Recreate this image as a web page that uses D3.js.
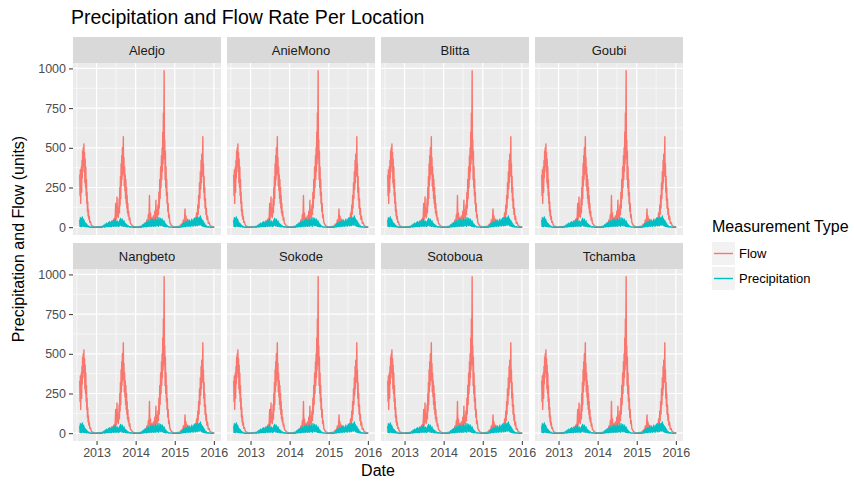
<!DOCTYPE html>
<html lang="en">
<head>
    <meta charset="UTF-8">
    <title>Precipitation and Flow Rate Per Location</title>
    <script src="https://d3js.org/d3.v7.min.js"></script>
    <style>
        body { margin: 0; background: #fff; font-family: "Liberation Sans", Arial, sans-serif; }
        .axis text { font-size: 12.5px; fill: #4d4d4d; }
        .axis line { stroke: #333; }
        .axis path { display: none; }
    </style>
</head>
<body>
    <div id="chart"></div>

    <script>
        // Data
        const locations = ["Aledjo", "AnieMono", "Blitta", "Goubi", "Nangbeto", "Sokode", "Sotoboua", "Tchamba"];
        const seriesNames = ["Flow", "Precipitation"];
        const seriesColors = ["#F8766D", "#00BFC4"];
        const yTicks = [0, 250, 500, 750, 1000];
        const xTickDates = ["2013-01-01", "2014-01-01", "2015-01-01", "2016-01-01"];

        const flow = [
            // 2012 season
            ["2012-07-28", 330], ["2012-07-31", 200], ["2012-08-03", 360], ["2012-08-06", 150],
            ["2012-08-09", 300], ["2012-08-12", 380], ["2012-08-15", 220], ["2012-08-18", 420],
            ["2012-08-21", 310], ["2012-08-24", 480], ["2012-08-27", 350], ["2012-08-30", 500],
            ["2012-09-02", 400], ["2012-09-05", 525], ["2012-09-08", 380], ["2012-09-11", 470],
            ["2012-09-14", 280], ["2012-09-17", 430], ["2012-09-20", 250], ["2012-09-23", 380],
            ["2012-09-26", 200], ["2012-09-29", 300], ["2012-10-02", 150], ["2012-10-05", 220],
            ["2012-10-08", 100], ["2012-10-11", 160], ["2012-10-14", 70], ["2012-10-17", 110],
            ["2012-10-21", 50], ["2012-10-25", 70], ["2012-10-30", 30], ["2012-11-05", 35],
            ["2012-11-12", 15], ["2012-11-20", 8], ["2012-12-01", 4], ["2012-12-15", 2],
            // 2013
            ["2013-01-01", 2], ["2013-01-20", 3], ["2013-02-10", 4], ["2013-03-01", 6],
            ["2013-03-12", 12], ["2013-03-22", 5], ["2013-04-02", 18], ["2013-04-12", 8],
            ["2013-04-22", 25], ["2013-05-02", 12], ["2013-05-12", 30], ["2013-05-22", 18],
            ["2013-06-01", 40], ["2013-06-08", 25], ["2013-06-15", 55], ["2013-06-22", 35],
            ["2013-06-29", 150], ["2013-07-03", 50], ["2013-07-07", 90], ["2013-07-11", 190],
            ["2013-07-15", 70], ["2013-07-19", 120], ["2013-07-23", 60], ["2013-07-27", 100],
            ["2013-07-31", 180], ["2013-08-03", 90], ["2013-08-06", 250], ["2013-08-09", 140],
            ["2013-08-12", 320], ["2013-08-15", 180], ["2013-08-18", 400], ["2013-08-21", 260],
            ["2013-08-24", 450], ["2013-08-27", 300], ["2013-08-30", 500], ["2013-09-02", 330],
            ["2013-09-05", 420], ["2013-09-08", 570], ["2013-09-11", 350], ["2013-09-14", 440],
            ["2013-09-17", 260], ["2013-09-20", 380], ["2013-09-23", 230], ["2013-09-26", 330],
            ["2013-09-29", 180], ["2013-10-02", 300], ["2013-10-05", 150], ["2013-10-08", 250],
            ["2013-10-11", 120], ["2013-10-14", 200], ["2013-10-17", 90], ["2013-10-20", 150],
            ["2013-10-24", 70], ["2013-10-28", 100], ["2013-11-02", 45], ["2013-11-07", 60],
            ["2013-11-13", 25], ["2013-11-20", 20], ["2013-11-30", 10], ["2013-12-12", 5],
            ["2013-12-25", 3],
            // 2014
            ["2014-01-10", 2], ["2014-02-01", 3], ["2014-02-20", 6], ["2014-03-08", 4],
            ["2014-03-22", 12], ["2014-04-02", 25], ["2014-04-09", 8], ["2014-04-16", 45],
            ["2014-04-23", 20], ["2014-04-30", 80], ["2014-05-05", 30], ["2014-05-10", 200],
            ["2014-05-14", 50], ["2014-05-19", 90], ["2014-05-25", 25], ["2014-06-01", 60],
            ["2014-06-08", 20], ["2014-06-15", 70], ["2014-06-22", 35], ["2014-06-29", 100],
            ["2014-07-04", 45], ["2014-07-09", 170], ["2014-07-13", 60], ["2014-07-18", 110],
            ["2014-07-23", 50], ["2014-07-28", 140], ["2014-08-02", 80], ["2014-08-06", 220],
            ["2014-08-10", 120], ["2014-08-14", 300], ["2014-08-18", 180], ["2014-08-22", 380],
            ["2014-08-26", 250], ["2014-08-30", 450], ["2014-09-02", 300], ["2014-09-05", 500],
            ["2014-09-08", 350], ["2014-09-11", 600], ["2014-09-14", 400], ["2014-09-17", 720],
            ["2014-09-20", 480], ["2014-09-24", 985], ["2014-09-27", 430], ["2014-09-30", 550],
            ["2014-10-03", 300], ["2014-10-06", 480], ["2014-10-09", 250], ["2014-10-12", 380],
            ["2014-10-15", 200], ["2014-10-18", 300], ["2014-10-21", 150], ["2014-10-24", 220],
            ["2014-10-28", 100], ["2014-11-01", 150], ["2014-11-05", 60], ["2014-11-10", 80],
            ["2014-11-16", 30], ["2014-11-23", 20], ["2014-12-05", 8], ["2014-12-20", 3],
            // 2015
            ["2015-01-10", 2], ["2015-02-01", 4], ["2015-02-20", 8], ["2015-03-05", 20],
            ["2015-03-14", 10], ["2015-03-22", 45], ["2015-03-29", 20], ["2015-04-03", 60],
            ["2015-04-07", 115], ["2015-04-11", 35], ["2015-04-16", 70], ["2015-04-22", 25],
            ["2015-05-01", 50], ["2015-05-10", 20], ["2015-05-18", 40], ["2015-05-27", 15],
            ["2015-06-05", 30], ["2015-06-15", 15], ["2015-06-25", 40], ["2015-07-03", 20],
            ["2015-07-10", 60], ["2015-07-17", 30], ["2015-07-24", 90], ["2015-07-30", 50],
            ["2015-08-04", 140], ["2015-08-08", 80], ["2015-08-12", 200], ["2015-08-16", 120],
            ["2015-08-20", 280], ["2015-08-24", 180], ["2015-08-28", 350], ["2015-09-01", 240],
            ["2015-09-04", 420], ["2015-09-07", 280], ["2015-09-10", 460], ["2015-09-13", 320],
            ["2015-09-17", 400], ["2015-09-20", 570], ["2015-09-23", 330], ["2015-09-26", 400],
            ["2015-09-29", 220], ["2015-10-02", 320], ["2015-10-05", 170], ["2015-10-08", 250],
            ["2015-10-11", 120], ["2015-10-15", 180], ["2015-10-19", 80], ["2015-10-23", 120],
            ["2015-10-28", 50], ["2015-11-03", 70], ["2015-11-10", 25], ["2015-11-18", 30],
            ["2015-11-26", 12], ["2015-12-06", 6], ["2015-12-18", 3], ["2016-01-05", 2]
        ];

        const precipitation = [
            // 2012
            ["2012-07-28", 45], ["2012-07-31", 5], ["2012-08-03", 60], ["2012-08-06", 10],
            ["2012-08-09", 40], ["2012-08-12", 3], ["2012-08-15", 55], ["2012-08-18", 15],
            ["2012-08-21", 65], ["2012-08-24", 8], ["2012-08-27", 35], ["2012-08-30", 5],
            ["2012-09-02", 50], ["2012-09-05", 12], ["2012-09-08", 40], ["2012-09-11", 4],
            ["2012-09-14", 30], ["2012-09-17", 6], ["2012-09-20", 25], ["2012-09-24", 3],
            ["2012-09-28", 20], ["2012-10-03", 2], ["2012-10-08", 12], ["2012-10-15", 1],
            ["2012-10-22", 6], ["2012-11-01", 0], ["2012-11-15", 1], ["2012-12-01", 0],
            // 2013
            ["2013-01-01", 0], ["2013-02-01", 1], ["2013-02-25", 0], ["2013-03-10", 10],
            ["2013-03-15", 0], ["2013-03-22", 18], ["2013-03-28", 2], ["2013-04-04", 25],
            ["2013-04-09", 3], ["2013-04-14", 20], ["2013-04-19", 5], ["2013-04-24", 30],
            ["2013-04-29", 4], ["2013-05-04", 35], ["2013-05-09", 6], ["2013-05-14", 25],
            ["2013-05-19", 3], ["2013-05-24", 40], ["2013-05-29", 8], ["2013-06-03", 30],
            ["2013-06-07", 5], ["2013-06-11", 45], ["2013-06-15", 10], ["2013-06-19", 35],
            ["2013-06-23", 4], ["2013-06-27", 50], ["2013-07-01", 12], ["2013-07-05", 30],
            ["2013-07-09", 6], ["2013-07-13", 40], ["2013-07-17", 10], ["2013-07-21", 25],
            ["2013-07-25", 5], ["2013-07-29", 35], ["2013-08-02", 8], ["2013-08-06", 45],
            ["2013-08-10", 12], ["2013-08-14", 55], ["2013-08-18", 15], ["2013-08-22", 40],
            ["2013-08-26", 6], ["2013-08-30", 50], ["2013-09-03", 10], ["2013-09-07", 35],
            ["2013-09-11", 5], ["2013-09-15", 40], ["2013-09-19", 8], ["2013-09-23", 25],
            ["2013-09-27", 4], ["2013-10-01", 20], ["2013-10-06", 3], ["2013-10-11", 15],
            ["2013-10-17", 2], ["2013-10-24", 8], ["2013-11-02", 1], ["2013-11-15", 3],
            ["2013-12-01", 0],
            // 2014
            ["2014-01-01", 0], ["2014-02-01", 1], ["2014-02-25", 0], ["2014-03-08", 15],
            ["2014-03-13", 1], ["2014-03-20", 20], ["2014-03-26", 3], ["2014-04-01", 28],
            ["2014-04-05", 4], ["2014-04-09", 22], ["2014-04-13", 2], ["2014-04-17", 35],
            ["2014-04-21", 6], ["2014-04-25", 30], ["2014-04-29", 5], ["2014-05-03", 40],
            ["2014-05-07", 8], ["2014-05-11", 25], ["2014-05-15", 4], ["2014-05-19", 45],
            ["2014-05-23", 10], ["2014-05-27", 30], ["2014-05-31", 5], ["2014-06-04", 50],
            ["2014-06-08", 12], ["2014-06-12", 35], ["2014-06-16", 6], ["2014-06-20", 45],
            ["2014-06-24", 10], ["2014-06-28", 30], ["2014-07-02", 5], ["2014-07-06", 55],
            ["2014-07-10", 15], ["2014-07-14", 40], ["2014-07-18", 8], ["2014-07-22", 50],
            ["2014-07-26", 12], ["2014-07-30", 35], ["2014-08-03", 6], ["2014-08-07", 60],
            ["2014-08-11", 18], ["2014-08-15", 45], ["2014-08-19", 10], ["2014-08-23", 55],
            ["2014-08-27", 15], ["2014-08-31", 40], ["2014-09-04", 8], ["2014-09-08", 50],
            ["2014-09-12", 12], ["2014-09-16", 35], ["2014-09-20", 5], ["2014-09-24", 40],
            ["2014-09-28", 6], ["2014-10-02", 25], ["2014-10-07", 3], ["2014-10-12", 18],
            ["2014-10-18", 2], ["2014-10-25", 8], ["2014-11-05", 1], ["2014-11-20", 2],
            ["2014-12-05", 0],
            // 2015
            ["2015-01-01", 0], ["2015-02-01", 1], ["2015-02-25", 0], ["2015-03-06", 12],
            ["2015-03-11", 1], ["2015-03-17", 22], ["2015-03-22", 3], ["2015-03-28", 30],
            ["2015-04-02", 5], ["2015-04-06", 25], ["2015-04-10", 3], ["2015-04-14", 35],
            ["2015-04-18", 8], ["2015-04-22", 28], ["2015-04-26", 4], ["2015-04-30", 40],
            ["2015-05-04", 10], ["2015-05-08", 30], ["2015-05-12", 5], ["2015-05-16", 45],
            ["2015-05-20", 12], ["2015-05-24", 30], ["2015-05-28", 6], ["2015-06-01", 40],
            ["2015-06-05", 10], ["2015-06-09", 50], ["2015-06-13", 15], ["2015-06-17", 35],
            ["2015-06-21", 6], ["2015-06-25", 45], ["2015-06-29", 10], ["2015-07-03", 55],
            ["2015-07-07", 20], ["2015-07-11", 40], ["2015-07-15", 8], ["2015-07-19", 60],
            ["2015-07-23", 15], ["2015-07-27", 45], ["2015-07-31", 10], ["2015-08-04", 65],
            ["2015-08-08", 20], ["2015-08-12", 50], ["2015-08-16", 12], ["2015-08-20", 60],
            ["2015-08-24", 18], ["2015-08-28", 70], ["2015-09-01", 15], ["2015-09-05", 55],
            ["2015-09-09", 10], ["2015-09-13", 45], ["2015-09-17", 8], ["2015-09-21", 40],
            ["2015-09-25", 5], ["2015-09-29", 30], ["2015-10-03", 4], ["2015-10-08", 20],
            ["2015-10-14", 2], ["2015-10-20", 10], ["2015-10-28", 1], ["2015-11-10", 3],
            ["2015-11-25", 0], ["2015-12-15", 0], ["2016-01-05", 0]
        ];

        // Layout
        const W = 854, H = 481;
        const panelLeft = 73, panelW = 148, panelGap = 6;
        const stripH = 26, panelH = 172;
        const rowTops = [37, 243];
        const nCols = 4;

        const parse = d3.timeParse("%Y-%m-%d");
        const flowData = flow.map(d => ({date: parse(d[0]), value: d[1]}));
        const precipData = precipitation.map(d => ({date: parse(d[0]), value: d[1]}));
        const allSeries = [flowData, precipData];

        // scales with ggplot-style 5% expansion
        const allDates = flowData.concat(precipData).map(d => d.date);
        const [t0, t1] = d3.extent(allDates);
        const tPad = (t1 - t0) * 0.05;
        const x = d3.scaleTime()
            .domain([new Date(+t0 - tPad), new Date(+t1 + tPad)])
            .range([0, panelW]);

        const vMax = d3.max(flowData.concat(precipData), d => d.value);
        const vPad = vMax * 0.05;
        const y = d3.scaleLinear()
            .domain([-vPad, vMax + vPad])
            .range([panelH, 0]);

        const line = d3.line()
            .x(d => x(d.date))
            .y(d => y(d.value));

        const svg = d3.select("#chart").append("svg")
            .attr("width", W)
            .attr("height", H);

        // Title
        svg.append("text")
            .attr("x", 71)
            .attr("y", 24)
            .style("font-size", "19.5px")
            .style("fill", "#000")
            .text("Precipitation and Flow Rate Per Location");

        const xTicks = xTickDates.map(parse);
        const yMinor = [125, 375, 625, 875];
        const xMinor = ["2012-07-01", "2013-07-01", "2014-07-01", "2015-07-01"].map(parse)
            .filter(d => x(d) >= 0 && x(d) <= panelW);

        locations.forEach((loc, i) => {
            const col = i % nCols;
            const row = Math.floor(i / nCols);
            const px = panelLeft + col * (panelW + panelGap);
            const stripTop = rowTops[row];
            const py = stripTop + stripH;

            // Strip
            svg.append("rect")
                .attr("x", px).attr("y", stripTop)
                .attr("width", panelW).attr("height", stripH)
                .attr("fill", "#D9D9D9");
            svg.append("text")
                .attr("x", px + panelW / 2)
                .attr("y", stripTop + stripH / 2 + 4.5)
                .attr("text-anchor", "middle")
                .style("font-size", "13px")
                .style("fill", "#1a1a1a")
                .text(loc);

            const g = svg.append("g")
                .attr("transform", `translate(${px},${py})`);

            g.append("rect")
                .attr("width", panelW).attr("height", panelH)
                .attr("fill", "#EBEBEB");

            // Minor grid
            g.selectAll(".ymin").data(yMinor).enter().append("line")
                .attr("x1", 0).attr("x2", panelW)
                .attr("y1", d => y(d)).attr("y2", d => y(d))
                .attr("stroke", "#fff").attr("stroke-width", 0.6);
            g.selectAll(".xmin").data(xMinor).enter().append("line")
                .attr("y1", 0).attr("y2", panelH)
                .attr("x1", d => x(d)).attr("x2", d => x(d))
                .attr("stroke", "#fff").attr("stroke-width", 0.6);

            // Major grid
            g.selectAll(".ymaj").data(yTicks).enter().append("line")
                .attr("x1", 0).attr("x2", panelW)
                .attr("y1", d => y(d)).attr("y2", d => y(d))
                .attr("stroke", "#fff").attr("stroke-width", 1.2);
            g.selectAll(".xmaj").data(xTicks).enter().append("line")
                .attr("y1", 0).attr("y2", panelH)
                .attr("x1", d => x(d)).attr("x2", d => x(d))
                .attr("stroke", "#fff").attr("stroke-width", 1.2);

            // Lines
            allSeries.forEach((s, k) => {
                g.append("path")
                    .datum(s)
                    .attr("fill", "none")
                    .attr("stroke", seriesColors[k])
                    .attr("stroke-width", 1.4)
                    .attr("stroke-linejoin", "round")
                    .attr("d", line);
            });

            // Axes
            if (col === 0) {
                g.append("g")
                    .attr("class", "axis")
                    .call(d3.axisLeft(y).tickValues(yTicks).tickSize(4).tickPadding(3)
                        .tickFormat(d3.format("d")));
            }
            if (row === 1) {
                g.append("g")
                    .attr("class", "axis")
                    .attr("transform", `translate(0,${panelH})`)
                    .call(d3.axisBottom(x).tickValues(xTicks).tickSize(4).tickPadding(3)
                        .tickFormat(d3.timeFormat("%Y")));
            }
        });

        // Axis titles
        svg.append("text")
            .attr("x", panelLeft + (nCols * panelW + (nCols - 1) * panelGap) / 2)
            .attr("y", 476)
            .attr("text-anchor", "middle")
            .style("font-size", "16px")
            .style("fill", "#000")
            .text("Date");

        svg.append("text")
            .attr("transform", `translate(24,${(rowTops[0] + rowTops[1] + stripH + panelH) / 2}) rotate(-90)`)
            .attr("text-anchor", "middle")
            .style("font-size", "16px")
            .style("fill", "#000")
            .text("Precipitation and Flow (units)");

        // Legend
        const legend = svg.append("g")
            .attr("transform", "translate(712,232)");
        legend.append("text")
            .style("font-size", "16px")
            .style("fill", "#000")
            .text("Measurement Type");
        seriesNames.forEach((name, k) => {
            const ly = 10 + k * 25;
            legend.append("rect")
                .attr("x", 0).attr("y", ly)
                .attr("width", 23).attr("height", 23)
                .attr("fill", "#F2F2F2");
            legend.append("line")
                .attr("x1", 2).attr("x2", 21)
                .attr("y1", ly + 11.5).attr("y2", ly + 11.5)
                .attr("stroke", seriesColors[k])
                .attr("stroke-width", 1.4);
            legend.append("text")
                .attr("x", 27)
                .attr("y", ly + 16)
                .style("font-size", "13px")
                .style("fill", "#000")
                .text(name);
        });
    </script>
</body>
</html>
